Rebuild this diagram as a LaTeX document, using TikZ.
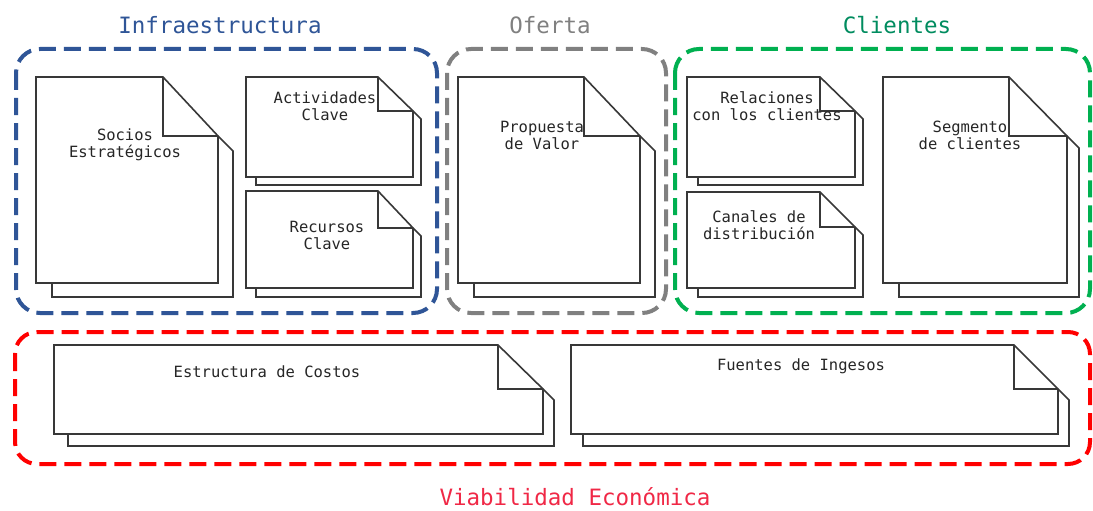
\documentclass[tikz,border=0pt]{standalone}
\usepackage{fontspec}
\newfontfamily\monof{DejaVu Sans Mono}
\definecolor{cblue}{RGB}{47,85,151}
\definecolor{cgray}{RGB}{128,128,128}
\definecolor{cgreen}{RGB}{0,176,80}
\definecolor{cgreentext}{RGB}{0,140,95}
\definecolor{cred}{RGB}{255,0,0}
\definecolor{credtext}{RGB}{240,40,70}
\tikzset{
  docline/.style={draw=black!78, line width=1.6pt, line join=miter},
  groupbox/.style={line width=4pt, dash pattern=on 17pt off 8pt, rounded corners=24pt},
  heading/.style={font=\monof\fontsize{22.5}{25}\selectfont, inner sep=0pt},
  doctext/.style={font=\monof\fontsize{15.5}{17}\selectfont, text=black!85, align=center, inner sep=0pt},
}
% #1 L, #2 T, #3 R, #4 B, #5 fold x, #6 fold y, #7 back L, #8 back R, #9 back B
\newcommand\docshape[9]{%
  \fill[white] (#7,#4) -- (#7,#9) -- (#8,#9) -- (#8,{#6+#8-#3}) -- (#3,#6) -- (#3,#4) -- cycle;
  \draw[docline] (#7,#4) -- (#7,#9) -- (#8,#9) -- (#8,{#6+#8-#3}) -- (#3,#6);
  \filldraw[docline, fill=white] (#1,#2) -- (#5,#2) -- (#3,#6) -- (#3,#4) -- (#1,#4) -- cycle;
  \draw[docline] (#5,#2) -- (#5,#6) -- (#3,#6);
}
\begin{document}
\begin{tikzpicture}[x=1pt, y=-1pt]
\useasboundingbox[fill=white] (0,0) rectangle (1093,511);

% group frames
\draw[groupbox, cblue] (16,49) rectangle (437,313);
\draw[groupbox, cgray] (447,49) rectangle (666,313);
\draw[groupbox, cgreen] (675,49) rectangle (1090,313);
\draw[groupbox, cred, rounded corners=22pt] (15,332) rectangle (1090,464);

% headings
\node[heading, text=cblue] (hinfra) at (220,25) {Infraestructura};
\node[heading, text=cgray] (hoferta) at (550,25) {Oferta};
\node[heading, text=cgreentext] (hclientes) at (897,25) {Clientes};
\node[heading, text=credtext] (hviab) at (575,497) {Viabilidad Económica};

% documents
\docshape{36}{77}{218}{283}{163}{136}{52}{233}{297}
\docshape{246}{77}{413}{177}{378}{111}{256}{421}{185}
\docshape{246}{191}{413}{288}{378}{228}{256}{421}{297}
\docshape{458}{77}{640}{283}{584}{136}{474}{655}{297}
\docshape{687}{77}{855}{177}{820}{111}{698}{863}{185}
\docshape{687}{192}{855}{288}{820}{227}{698}{863}{297}
\docshape{883}{77}{1067}{283}{1009}{136}{899}{1079}{297}
\docshape{54}{345}{543}{434}{498}{389}{68}{554}{446}
\docshape{571}{345}{1058}{434}{1014}{389}{583}{1069}{446}

% document texts
\node[doctext] (socios) at (125,145) {Socios\\Estratégicos};
\node[doctext] (actividades) at (325,106) {Actividades\\Clave};
\node[doctext] (recursos) at (327,235) {Recursos\\Clave};
\node[doctext] (propuesta) at (542,135) {Propuesta\\de Valor};
\node[doctext] (relaciones) at (767,106) {Relaciones\\con los clientes};
\node[doctext] (canales) at (759,225) {Canales de\\distribución};
\node[doctext] (segmento) at (970,135) {Segmento\\de clientes};
\node[doctext] (costos) at (267,372) {Estructura de Costos};
\node[doctext] (ingresos) at (801,366) {Fuentes de Ingesos};
\end{tikzpicture}
\end{document}
